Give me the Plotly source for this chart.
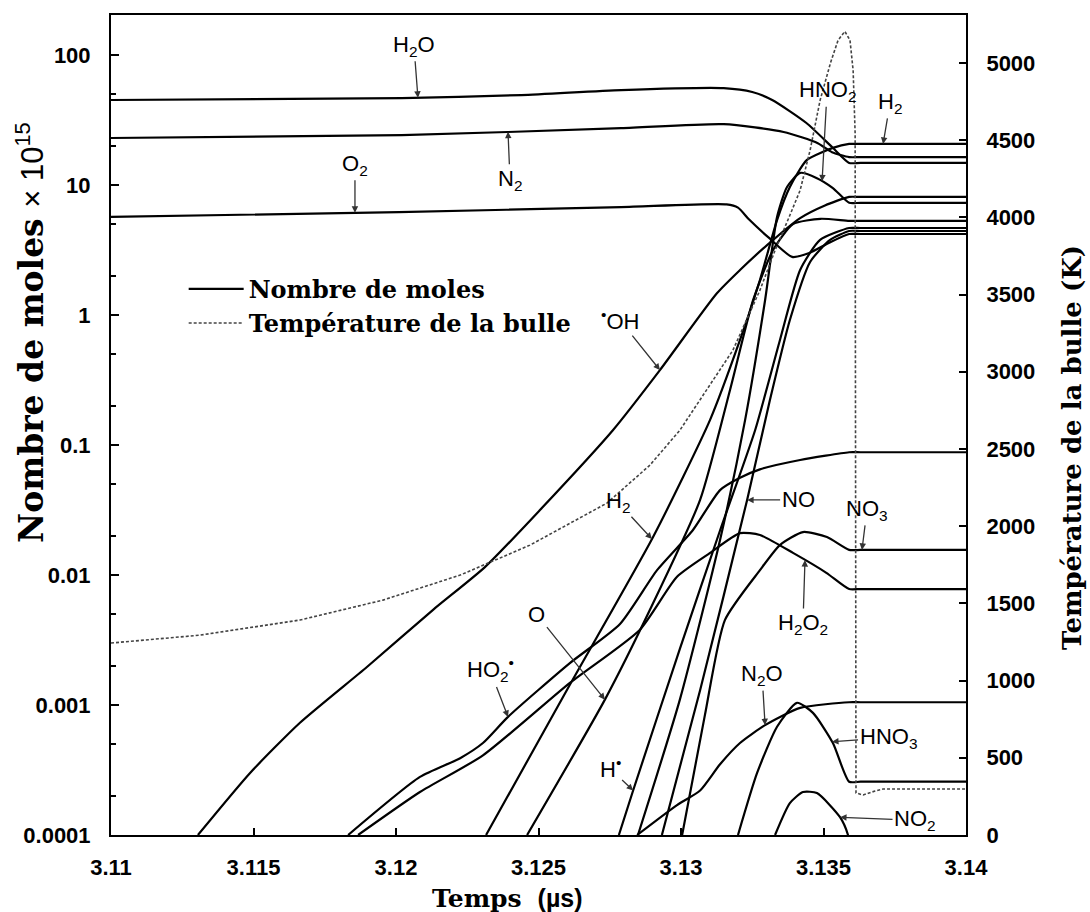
import numpy as np
import plotly.graph_objects as go

# ---- time axis (µs) and species amounts (moles x 1e15) ----
t_h2o = [3.11, 3.1202, 3.1244, 3.1279, 3.1315, 3.1325, 3.1332, 3.1344, 3.1353, 3.1359, 3.1363, 3.14]
n_h2o = [45.1, 46.6, 49.2, 53.8, 55.7, 52.0, 45.1, 30.0, 19.6, 14.8, 14.8, 14.8]

t_n2 = [3.11, 3.1202, 3.1279, 3.1315, 3.1336, 3.1348, 3.1353, 3.1359, 3.1363, 3.14]
n_n2 = [23.0, 24.2, 27.4, 29.4, 25.6, 21.0, 17.9, 16.4, 16.4, 16.4]

t_o2 = [3.11, 3.1201, 3.1279, 3.1316, 3.1320, 3.1324, 3.1331, 3.1339, 3.1345, 3.1352, 3.1359, 3.1363, 3.14]
n_o2 = [5.68, 6.19, 6.77, 7.1, 6.7, 5.4, 3.9, 2.8, 3.0, 3.6, 4.2, 4.2, 4.2]

t_oh = [3.11305, 3.11488, 3.11663, 3.11898, 3.1213, 3.12312, 3.12505, 3.12761, 3.12926,
        3.13126, 3.13207, 3.13302, 3.13418, 3.13505, 3.1359, 3.1363, 3.14]
n_oh = [1e-4, 3.0e-4, 7.3e-4, 1.96e-3, 5.4e-3, 0.0115, 0.0316, 0.130, 0.377,
        1.47, 2.22, 3.45, 5.57, 6.97, 8.1, 8.1, 8.1]

t_ho2 = [3.11832, 3.12084, 3.12225, 3.12305, 3.12393, 3.1261, 3.12786, 3.12916, 3.13042,
         3.13137, 3.13207, 3.13277, 3.13418, 3.1359, 3.1363, 3.14]
n_ho2 = [1e-4, 2.8e-4, 3.9e-4, 5.1e-4, 8.1e-4, 2.1e-3, 4.2e-3, 0.0109, 0.0222,
         0.045, 0.056, 0.065, 0.0767, 0.088, 0.088, 0.088]

t_h2o2 = [3.11867, 3.12084, 3.12305, 3.1261, 3.12856, 3.12986, 3.13102, 3.13207, 3.13277,
          3.13393, 3.1351, 3.1359, 3.1363, 3.14]
n_h2o2 = [1e-4, 2.14e-4, 4.1e-4, 1.48e-3, 3.8e-3, 9.7e-3, 0.0148, 0.021, 0.0203,
          0.0148, 0.0104, 0.0078, 0.0078, 0.0078]

t_h2 = [3.12316, 3.1261, 3.12902, 3.13102, 3.13207, 3.13277, 3.13337, 3.13382, 3.13442,
        3.13533, 3.1359, 3.1363, 3.14]
n_h2 = [1e-4, 1.43e-3, 0.0196, 0.156, 0.643, 1.86, 5.38, 9.66, 15.6, 19.3, 20.7, 20.7, 20.7]

t_o = [3.1246, 3.12733, 3.12891, 3.13067, 3.13172, 3.13253, 3.13323, 3.13393, 3.1349, 3.1359, 3.1363, 3.14]
n_o = [1e-4, 1.1e-3, 5.4e-3, 0.0378, 0.265, 1.30, 3.16, 5.0, 5.5, 5.3, 5.3, 5.3]

t_h = [3.12782, 3.12832, 3.12996, 3.13137, 3.1326, 3.13347, 3.13418, 3.13488, 3.1359, 3.1363, 3.14]
n_h = [1e-4, 2.2e-4, 2.7e-3, 0.022, 0.13, 0.64, 2.22, 3.78, 4.67, 4.67, 4.67]

t_no = [3.12933, 3.13067, 3.13232, 3.13312, 3.13382, 3.13453, 3.13523, 3.1359, 3.1363, 3.14]
n_no = [1e-4, 1.3e-3, 0.0378, 0.222, 0.916, 2.56, 3.78, 4.43, 4.43, 4.43]

t_hno2 = [3.12849, 3.12996, 3.13137, 3.13225, 3.13295, 3.13337, 3.13372, 3.13418, 3.13477,
          3.13533, 3.1359, 3.1363, 3.14]
n_hno2 = [1e-4, 1.1e-3, 0.0186, 0.156, 1.30, 5.67, 9.66, 12.4, 11.3, 9.48, 7.3, 7.3, 7.3]

t_no3 = [3.13004, 3.13084, 3.13154, 3.13277, 3.13347, 3.13428, 3.13512, 3.1359, 3.1363, 3.14]
n_no3 = [1e-4, 8.4e-4, 4.5e-3, 0.0109, 0.017, 0.0214, 0.0196, 0.0156, 0.0156, 0.0156]

t_n2o = [3.12846, 3.12986, 3.13067, 3.13137, 3.13207, 3.13295, 3.13418, 3.1359, 3.1363, 3.14]
n_n2o = [1e-4, 1.7e-4, 2.2e-4, 3.5e-4, 5.1e-4, 7.0e-4, 9.5e-4, 1.05e-3, 1.05e-3, 1.05e-3]

t_hno3 = [3.132, 3.13267, 3.13337, 3.13407, 3.13463, 3.13533, 3.1359, 3.1363, 3.14]
n_hno3 = [1e-4, 3.0e-4, 6.8e-4, 1.04e-3, 8.7e-4, 5.1e-4, 2.57e-4, 2.57e-4, 2.57e-4]

t_no2 = [3.1333, 3.13382, 3.13428, 3.13477, 3.13558, 3.13586, 3.1361]
n_no2 = [1e-4, 1.76e-4, 2.14e-4, 2.1e-4, 1.37e-4, 1.0e-4, 5e-5]

# ---- bubble temperature (K) ----
t_temp = [3.11, 3.11312, 3.11663, 3.11954, 3.12225, 3.1247, 3.1274, 3.12891, 3.12996, 3.13102,
          3.13182, 3.13277, 3.1333, 3.13382, 3.13418, 3.13453, 3.13488, 3.13525, 3.13551,
          3.13575, 3.13593, 3.13604, 3.13611, 3.13614, 3.13639, 3.13681, 3.13709, 3.14]
temp_k = [1243, 1294, 1392, 1521, 1683, 1877, 2149, 2395, 2621, 2913,
          3139, 3528, 3786, 4013, 4175, 4434, 4757, 5003, 5146,
          5204, 5146, 4951, 4544, 272, 259, 285, 298, 298]

# ---- axis ticks ----
x_ticks = [3.11, 3.115, 3.12, 3.125, 3.13, 3.135, 3.14]
x_tick_text = ["3.11", "3.115", "3.12", "3.125", "3.13", "3.135", "3.14"]
y_ticks = [1e-4, 1e-3, 1e-2, 1e-1, 1, 10, 100]
y_tick_text = ["0.0001", "0.001", "0.01", "0.1", "1", "10", "100"]
t_ticks = list(range(0, 5001, 500))

species = {
    "H2O": (t_h2o, n_h2o), "N2": (t_n2, n_n2), "O2": (t_o2, n_o2), "OH": (t_oh, n_oh),
    "HO2": (t_ho2, n_ho2), "H2O2": (t_h2o2, n_h2o2), "H2": (t_h2, n_h2), "O": (t_o, n_o),
    "H": (t_h, n_h), "NO": (t_no, n_no), "HNO2": (t_hno2, n_hno2), "NO3": (t_no3, n_no3),
    "N2O": (t_n2o, n_n2o), "HNO3": (t_hno3, n_hno3), "NO2": (t_no2, n_no2),
}

# label text, species, time of arrow tip, text offset (px)
labels = [
    ("H<sub>2</sub>O", "H2O", 3.12077, -4, -52),
    ("N<sub>2</sub>", "N2", 3.12393, 2, 48),
    ("O<sub>2</sub>", "O2", 3.11856, 0, -48),
    ("HNO<sub>2</sub>", "HNO2", 3.13495, 5, -90),
    ("H<sub>2</sub>", "H2", 3.13709, 7, -41),
    ("<sup>•</sup>OH", "OH", 3.12926, -40, -50),
    ("H<sub>2</sub>", "H2", 3.12898, -34, -37),
    ("NO", "NO", 3.13232, 51, 0),
    ("NO<sub>3</sub>", "NO3", 3.13635, 5, -40),
    ("H<sub>2</sub>O<sub>2</sub>", "H2O2", 3.13435, -2, 64),
    ("HO<sub>2</sub><sup>•</sup>", "HO2", 3.12393, -18, -47),
    ("O", "O", 3.12733, -68, -85),
    ("H<sup>•</sup>", "H", 3.12832, -23, -22),
    ("N<sub>2</sub>O", "N2O", 3.13295, -3, -50),
    ("HNO<sub>3</sub>", "HNO3", 3.1353, 56, -4),
    ("NO<sub>2</sub>", "NO2", 3.13558, 75, 3),
]

SANS = "Liberation Sans, Arial"
SERIF = "DejaVu Serif, serif"

fig = go.Figure()

first = True
for key, (tt, nn) in species.items():
    fig.add_trace(go.Scatter(
        x=tt, y=nn, mode="lines", name="Nombre de moles", legendgroup="moles",
        showlegend=first, yaxis="y",
        line=dict(color="black", width=2.2, shape="spline", smoothing=0.6),
        hoverinfo="skip",
    ))
    first = False

fig.add_trace(go.Scatter(
    x=t_temp, y=temp_k, mode="lines", name="Température de la bulle", yaxis="y2",
    line=dict(color="#444444", width=1.6, dash="3px,2px"), hoverinfo="skip",
))

annotations = []
for text, key, t0, ax, ay in labels:
    tt, nn = species[key]
    y_log = float(np.interp(t0, tt, np.log10(nn)))
    annotations.append(dict(
        x=t0, y=y_log, xref="x", yref="y", text=text, showarrow=True,
        ax=ax, ay=ay, arrowhead=2, arrowsize=1, arrowwidth=1.3, arrowcolor="#333333",
        standoff=0, font=dict(family=SANS, size=22, color="black"),
    ))

# axis titles
annotations.append(dict(
    xref="paper", yref="paper", x=-0.095, y=0.612, xanchor="center", yanchor="middle",
    textangle=-90, showarrow=False,
    text="<b>Nombre de moles</b> <span style=\"font-family:'Liberation Sans',Arial;font-size:31px\">× 10<sup>15</sup></span>",
    font=dict(family=SERIF, size=33, color="black"),
))
annotations.append(dict(
    xref="paper", yref="paper", x=1.124, y=0.472, xanchor="center", yanchor="middle",
    textangle=-90, showarrow=False,
    text="<b>Température de la bulle (K)</b>",
    font=dict(family=SERIF, size=26, color="black"),
))
annotations.append(dict(
    xref="paper", yref="paper", x=0.464, y=-0.077, xanchor="center", yanchor="middle",
    showarrow=False,
    text="<b>Temps</b>  <span style=\"font-family:'Liberation Sans',Arial\"><b>(µs)</b></span>",
    font=dict(family=SERIF, size=25, color="black"),
))

tickfont = dict(family=SANS, size=22, color="black", weight="bold")

fig.update_layout(
    width=1090, height=912,
    margin=dict(l=111, r=124, t=15, b=77),
    paper_bgcolor="white", plot_bgcolor="white",
    showlegend=True,
    legend=dict(x=0.085, y=0.693, xanchor="left", yanchor="top",
                bgcolor="rgba(0,0,0,0)", borderwidth=0, itemwidth=55,
                font=dict(family=SERIF, size=24, color="black", weight="bold"),
                tracegroupgap=0),
    xaxis=dict(range=[3.11, 3.14], tickvals=x_ticks, ticktext=x_tick_text,
               ticks="inside", ticklen=7, tickwidth=1.5, tickcolor="black",
               showline=True, linecolor="black", linewidth=2, mirror=True,
               showgrid=False, zeroline=False, tickfont=tickfont, ticklabelstandoff=12),
    yaxis=dict(type="log", range=[-4, 2.308], tickvals=y_ticks, ticktext=y_tick_text,
               ticks="inside", ticklen=8, tickwidth=1.5, tickcolor="black",
               minor=dict(ticks="inside", ticklen=5, tickcolor="black", showgrid=False),
               showline=True, linecolor="black", linewidth=2, mirror=True,
               showgrid=False, zeroline=False, tickfont=tickfont, ticklabelstandoff=14),
    yaxis2=dict(overlaying="y", side="right", range=[0, 5310], tickvals=t_ticks,
                ticktext=[str(v) for v in t_ticks],
                ticks="inside", ticklen=7, tickwidth=1.5, tickcolor="black",
                showline=True, linecolor="black", linewidth=2,
                showgrid=False, zeroline=False, tickfont=tickfont, ticklabelstandoff=14),
    annotations=annotations,
)

fig.write_html("out.html")
